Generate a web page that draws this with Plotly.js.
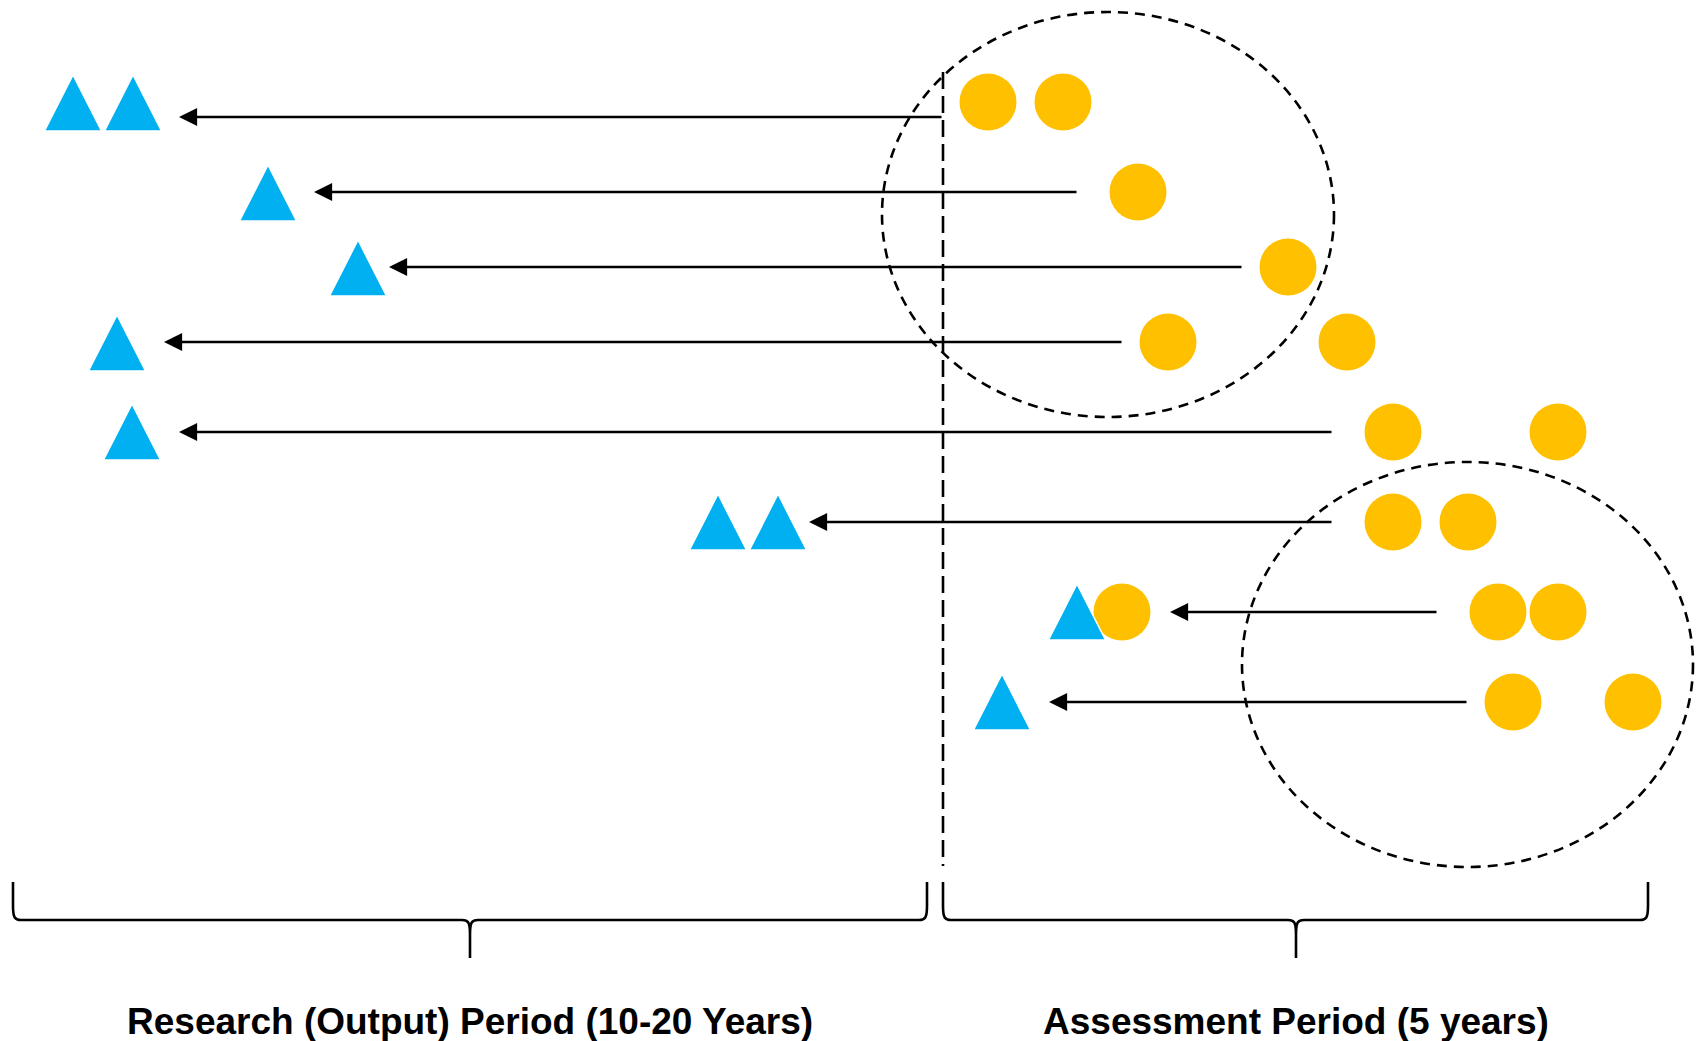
<!DOCTYPE html>
<html>
<head>
<meta charset="utf-8">
<script src="https://cdn.plot.ly/plotly-3.0.1.min.js"></script>
<style>
  html, body { margin: 0; padding: 0; background: #ffffff; }
  #chart { width: 1697px; height: 1041px; }
</style>
</head>
<body>
<div id="chart"></div>
<script>
// ---- data (diagram units = canvas coordinates) ----
// Research outputs (blue triangles): centre positions
const outputX = [73, 133, 268, 358, 117, 132, 718, 778, 1077, 1002];
const outputY = [103, 103, 193, 268, 343, 432, 522, 522, 612, 702];

// Assessed items (yellow circles): centre positions
const impactX = [988, 1063, 1138, 1288, 1168, 1347, 1393, 1558, 1393, 1468, 1122, 1498, 1558, 1513, 1633];
const impactY = [102, 102, 192, 267, 342, 342, 432, 432, 522, 522, 612, 612, 612, 702, 702];

// Arrows linking assessed items back to outputs
const arrowFromX = [943, 1078, 1243, 1123, 1333, 1333, 1438, 1468];
const arrowToX   = [179, 314, 389, 164, 179, 809, 1170, 1049];
const arrowY     = [117, 192, 267, 342, 432, 522, 612, 702];

// Dashed groupings (ellipses): x0, x1, y0, y1
const groupX0 = [882, 1242];
const groupX1 = [1334, 1693];
const groupY0 = [12, 462];
const groupY1 = [417, 867];

// Period boundary (dashed vertical line)
const boundaryX = 943;
const boundaryY = [72, 866];

// Period braces and labels
const periodStart = [13, 943];
const periodEnd   = [927, 1648];
const periodMid   = [470, 1296];
const periodLabels = ["Research (Output) Period (10-20 Years)", "Assessment Period (5 years)"];

// ---- build ----
const W = 1697, H = 1041;
const triHalfW = 28.5, triHalfH = 28;

const triX = [], triY = [];
outputX.forEach((cx, i) => {
  const cy = outputY[i];
  triX.push(cx - triHalfW, cx + triHalfW, cx, cx - triHalfW, null);
  triY.push(cy + triHalfH, cy + triHalfH, cy - triHalfH, cy + triHalfH, null);
});

const traces = [
  {
    type: 'scatter', mode: 'markers',
    x: impactX, y: impactY,
    marker: { symbol: 'circle', size: 57, color: '#FFC000', line: { width: 0 } },
    hoverinfo: 'skip', showlegend: false
  },
  {
    type: 'scatter', mode: 'lines',
    x: triX, y: triY,
    fill: 'toself', fillcolor: '#00B0F0',
    line: { color: '#ffffff', width: 1.5 },
    hoverinfo: 'skip', showlegend: false
  }
];

const shapes = [];
groupX0.forEach((x0, i) => {
  shapes.push({
    type: 'circle', xref: 'x', yref: 'y', layer: 'below',
    x0: x0, x1: groupX1[i], y0: groupY0[i], y1: groupY1[i],
    line: { color: '#000000', width: 2.6, dash: '10px,7px' }
  });
});
shapes.push({
  type: 'line', xref: 'x', yref: 'y', layer: 'below',
  x0: boundaryX, x1: boundaryX, y0: boundaryY[0], y1: boundaryY[1],
  line: { color: '#000000', width: 2.6, dash: '17px,7px' }
});

const braceTop = 882, braceLine = 920, braceTip = 958;
periodStart.forEach((xs, i) => {
  const xe = periodEnd[i], xm = periodMid[i];
  const p = 'M' + xs + ',' + braceTop +
    ' L' + xs + ',' + (braceLine - 14) +
    ' C' + xs + ',' + (braceLine - 2) + ' ' + (xs + 2) + ',' + braceLine + ' ' + (xs + 8) + ',' + braceLine +
    ' L' + (xm - 8) + ',' + braceLine +
    ' C' + (xm - 2) + ',' + braceLine + ' ' + xm + ',' + (braceLine + 2) + ' ' + xm + ',' + (braceLine + 14) +
    ' L' + xm + ',' + braceTip +
    ' M' + xm + ',' + (braceLine + 14) +
    ' C' + xm + ',' + (braceLine + 2) + ' ' + (xm + 2) + ',' + braceLine + ' ' + (xm + 8) + ',' + braceLine +
    ' L' + (xe - 8) + ',' + braceLine +
    ' C' + (xe - 2) + ',' + braceLine + ' ' + xe + ',' + (braceLine - 2) + ' ' + xe + ',' + (braceLine - 14) +
    ' L' + xe + ',' + braceTop;
  shapes.push({
    type: 'path', xref: 'x', yref: 'y', layer: 'below', path: p,
    line: { color: '#000000', width: 2.6 }
  });
});

const annotations = [];
arrowFromX.forEach((x0, i) => {
  annotations.push({
    x: arrowToX[i], y: arrowY[i], xref: 'x', yref: 'y',
    ax: x0, ay: arrowY[i], axref: 'x', ayref: 'y',
    text: '', showarrow: true,
    arrowhead: 2, arrowsize: 1.45, arrowwidth: 2.5, arrowcolor: '#000000',
    standoff: 0, startstandoff: 0
  });
});
periodLabels.forEach((t, i) => {
  annotations.push({
    x: periodMid[i], y: 1021, xref: 'x', yref: 'y',
    text: t, showarrow: false, xanchor: 'center', yanchor: 'middle',
    font: { family: 'Liberation Sans, Arial, sans-serif', size: 37, color: '#000000', weight: 700 }
  });
});

const layout = {
  width: W, height: H,
  margin: { l: 0, r: 0, t: 0, b: 0, pad: 0 },
  paper_bgcolor: '#ffffff', plot_bgcolor: '#ffffff',
  xaxis: { range: [0, W], visible: false, fixedrange: true, showgrid: false, zeroline: false },
  yaxis: { range: [H, 0], visible: false, fixedrange: true, showgrid: false, zeroline: false },
  showlegend: false, hovermode: false,
  shapes: shapes, annotations: annotations
};

Plotly.newPlot('chart', traces, layout, { staticPlot: true, displayModeBar: false });
</script>
</body>
</html>
